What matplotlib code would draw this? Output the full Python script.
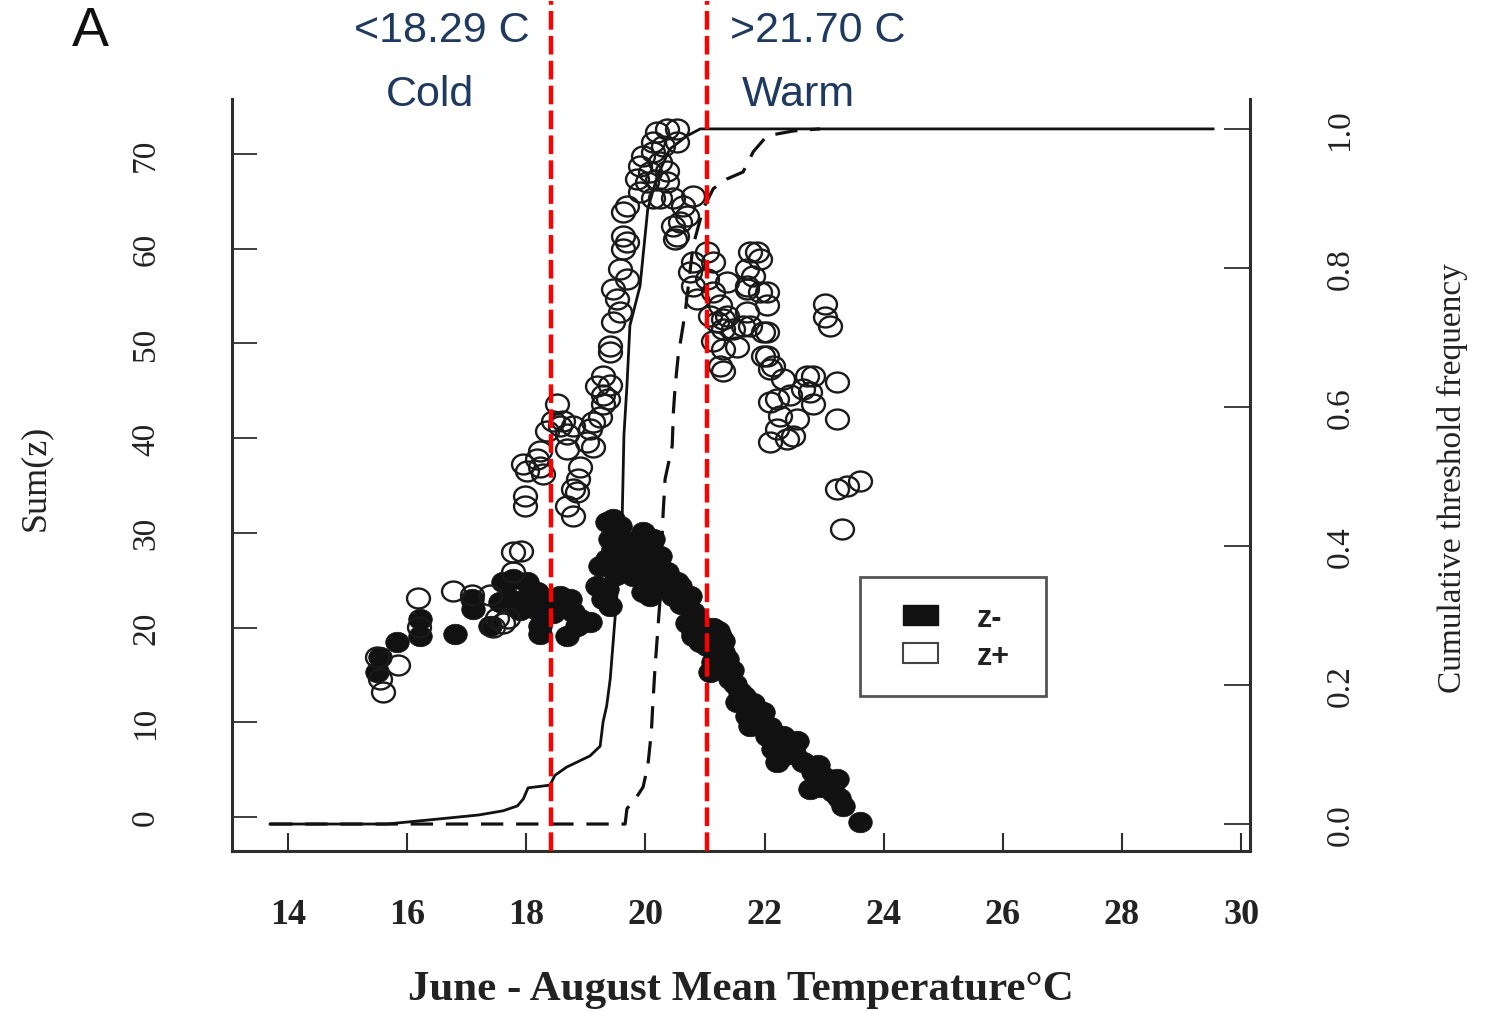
import matplotlib
matplotlib.use('Agg')
import matplotlib.pyplot as plt
from matplotlib.path import Path
from matplotlib.transforms import Affine2D
from matplotlib.patches import Patch, Rectangle

# ---------------- data ----------------
# z+ (open circles): temperature, Sum(z)
zpos_x = [15.49, 15.85, 15.54, 15.60, 16.18, 16.20, 16.77, 17.09, 17.39, 17.51, 17.61, 17.69, 17.44,
          17.78, 17.91, 17.78, 17.98, 17.98, 18.18, 17.95, 18.01, 18.23, 18.28,
          18.23, 18.35, 18.45, 18.62, 18.57, 18.52, 18.68, 18.79, 18.68,
          18.90, 18.87, 18.79, 18.68, 18.79, 18.85,
          19.12, 19.24, 19.07, 19.02, 19.12,
          19.29, 19.19, 19.41, 19.29, 19.37, 19.29,
          19.41, 19.41, 19.57, 19.46, 19.57, 19.69, 19.46, 19.52,
          19.62, 19.69, 19.62, 19.69, 19.62,
          19.91, 20.13, 20.25, 19.86, 20.03, 20.20, 20.36, 20.36,
          20.13, 19.96, 20.25, 19.91, 20.08,
          20.36, 20.53, 20.20, 20.53, 20.30, 20.13,
          20.46, 20.63, 20.70, 20.58, 20.46, 20.80, 20.53, 20.50,
          20.80, 20.75, 20.80, 20.87, 21.03, 21.14, 21.03,
          21.14, 21.25, 21.37, 21.20, 21.30, 21.47, 21.64, 21.71,
          21.76, 21.87, 21.92, 21.71, 21.81, 21.71, 21.92, 22.04, 21.98,
          21.37, 21.71, 22.04, 21.09, 21.30, 21.76, 22.04,
          21.14, 21.30, 21.54, 21.30, 21.25,
          21.98, 22.09, 22.31, 22.04, 22.14,
          22.21, 22.09, 22.26, 22.55,
          22.09, 22.38, 22.48, 22.21,
          22.81, 22.65, 22.81, 22.71, 22.76, 22.43,
          23.02, 23.02, 23.10, 23.22, 23.22,
          23.22, 23.39, 23.60, 23.30]
zpos_y = [16.9, 16.0, 14.6, 13.2, 23.1, 20.1, 23.9, 23.4, 23.4, 21.0, 20.5, 21.0, 20.1,
          28.0, 28.1, 25.9, 33.9, 32.8, 37.8, 37.3, 36.5, 37.0, 36.2,
          38.6, 40.8, 41.8, 41.8, 41.3, 43.6, 40.4, 41.3, 38.9,
          37.0, 35.7, 34.6, 32.8, 31.8, 34.3,
          41.7, 42.2, 41.0, 39.6, 39.1,
          46.6, 45.5, 45.6, 44.5, 44.1, 43.6,
          49.7, 49.1, 53.3, 52.3, 57.9, 56.8, 55.7, 54.7,
          61.3, 60.7, 60.0, 64.5, 63.9,
          66.0, 65.3, 65.3, 67.4, 67.0, 67.2, 67.0, 68.2,
          70.2, 69.8, 69.2, 68.7, 68.1,
          72.6, 72.6, 72.3, 71.3, 70.8, 71.3,
          65.3, 64.5, 63.5, 62.8, 62.4, 65.6, 61.3, 61.0,
          58.6, 57.5, 56.1, 54.7, 59.7, 58.6, 56.8,
          55.4, 54.0, 52.9, 52.3, 51.5, 51.5, 51.8, 53.3,
          59.7, 59.7, 58.9, 57.9, 57.1, 56.1, 55.4, 54.0, 51.2,
          56.5, 55.7, 55.4, 52.9, 52.6, 51.8, 51.2,
          50.2, 49.4, 49.6, 47.1, 47.6,
          48.7, 47.3, 46.2, 48.7, 47.6,
          44.1, 43.8, 42.3, 42.0,
          39.6, 39.9, 40.2, 41.0,
          46.6, 45.2, 43.6, 46.6, 44.9, 44.5,
          54.2, 52.8, 51.8, 45.9, 42.0,
          34.6, 34.9, 35.5, 30.4]

# z- (filled circles): temperature, Sum(z)
zneg_x = [15.49, 15.54, 15.83, 16.22, 16.22, 16.80, 17.11, 17.09, 17.39,
          17.56, 17.61, 17.78, 18.01, 18.18, 18.28, 17.73, 17.90, 17.85, 18.06, 18.18,
          18.45, 18.23, 18.23, 18.62, 18.57, 18.73, 18.79, 18.90, 19.07, 18.68, 18.85,
          19.19, 19.36, 19.29, 19.41, 19.24, 19.36, 19.46,
          19.36, 19.46, 19.57, 19.52, 19.41,
          19.74, 19.79, 19.79, 19.69,
          19.96, 20.13, 20.08, 20.25, 20.20, 20.08,
          20.36, 20.53, 20.58, 20.70, 20.80, 20.80, 20.92, 19.96, 20.08,
          20.25, 20.58, 20.75, 20.46, 20.80, 20.80,
          19.60, 19.90, 20.30, 20.40, 20.60, 20.70, 19.50, 19.60, 20.00, 20.20, 20.90, 21.00,
          21.14, 21.25, 21.30, 21.37, 21.14, 21.22, 21.30, 21.37, 21.09,
          21.03, 21.20, 21.45, 21.50, 21.65,
          21.42, 21.59, 21.54, 21.71, 21.98, 21.76,
          21.80, 21.90, 22.10, 22.20, 22.40, 22.35, 22.50,
          22.04, 22.31, 22.55, 22.14, 22.21,
          22.90, 23.00, 23.10, 22.95, 23.25,
          22.65, 22.81, 23.22, 22.76, 23.15, 23.32, 23.60]
zneg_y = [15.3, 16.9, 18.5, 20.9, 19.1, 19.3, 22.0, 23.0, 20.2,
          22.7, 24.8, 25.1, 24.8, 23.8, 22.3, 23.0, 21.9, 22.3, 23.8, 21.9,
          21.5, 20.2, 19.3, 23.0, 23.3, 23.0, 21.6, 20.9, 20.6, 19.1, 20.2,
          24.4, 24.1, 23.0, 22.3, 26.5, 27.2, 28.3,
          31.1, 31.5, 30.7, 29.7, 29.4,
          29.0, 27.2, 25.4, 25.9,
          30.1, 29.4, 28.0, 27.6, 26.5, 24.8,
          25.9, 24.8, 23.3, 23.0, 21.6, 19.5, 18.5, 23.8, 23.3,
          26.2, 24.4, 23.3, 23.3, 21.2, 19.1,
          26.5, 28.5, 25.5, 24.5, 22.5, 20.5, 25.5, 28.0, 26.0, 24.2, 20.5, 19.0,
          19.9, 19.1, 17.4, 15.9, 16.4, 19.6, 18.6, 16.7, 15.3,
          18.0, 17.0, 15.5, 14.0, 12.8,
          14.6, 13.2, 12.1, 10.7, 11.1, 9.6,
          12.0, 10.2, 9.5, 8.0, 7.8, 6.5, 6.8,
          8.6, 8.6, 8.0, 7.2, 5.8,
          5.5, 4.2, 3.6, 3.2, 2.0,
          5.8, 4.8, 4.0, 3.0, 2.6, 1.2, -0.5]

# cumulative threshold frequency curves (right axis)
cum_neg_x = [13.70, 15.66, 16.50, 17.20, 17.61, 17.85, 17.95, 18.03, 18.40, 18.48, 18.68,
             18.90, 19.07, 19.24, 19.29, 19.35, 19.41, 19.52, 19.61, 19.64, 19.69,
             19.74, 19.91, 20.04, 20.20, 20.41, 20.70, 20.92, 29.53]
cum_neg_y = [0.0, 0.0, 0.007, 0.013, 0.019, 0.026, 0.036, 0.052, 0.056, 0.070, 0.082,
             0.091, 0.098, 0.112, 0.147, 0.170, 0.209, 0.328, 0.439, 0.560, 0.630,
             0.717, 0.774, 0.885, 0.932, 0.971, 0.990, 1.0, 1.0]
cum_pos_x = [13.70, 19.66, 19.69, 19.83, 19.96, 20.04, 20.10, 20.12, 20.16, 20.25, 20.29,
             20.33, 20.45, 20.47, 20.50, 20.55, 20.67, 20.80, 20.97, 21.14, 21.37,
             21.64, 21.81, 22.04, 22.48, 22.93]
cum_pos_y = [0.0, 0.0, 0.022, 0.036, 0.053, 0.083, 0.132, 0.165, 0.223, 0.328, 0.435,
             0.496, 0.544, 0.593, 0.630, 0.673, 0.737, 0.832, 0.885, 0.914, 0.928,
             0.938, 0.967, 0.990, 0.997, 1.0]

thresholds = [18.42, 21.03]
threshold_labels = ['<18.29 C', '>21.70 C']
zone_labels = ['Cold', 'Warm']

x_ticks = [14, 16, 18, 20, 22, 24, 26, 28, 30]
y_ticks = [0, 10, 20, 30, 40, 50, 60, 70]
y2_ticks = [0.0, 0.2, 0.4, 0.6, 0.8, 1.0]
y2_ticklabels = ['0.0', '0.2', '0.4', '0.6', '0.8', '1.0']

# ---------------- figure ----------------
plt.rcParams['font.family'] = ['Liberation Serif', 'DejaVu Serif']
W, H = 1488, 1012
fig = plt.figure(figsize=(W / 100, H / 100), dpi=100)
ax = fig.add_axes([232 / W, 1 - 852 / H, 1018 / W, 752 / H])
ax2 = ax.twinx()
ax.set_zorder(2)
ax.patch.set_visible(False)

ax.set_xlim(13.06, 30.15)
ax.set_ylim(-3.59, 75.8)
ax2.set_ylim(-0.0388, 1.043)

ell = Path.unit_circle().transformed(Affine2D().scale(1.15, 1.0))
ax.plot(zneg_x, zneg_y, linestyle='none', marker=ell, ms=17, mfc='#111111',
        mec='#111111', mew=0.5, zorder=3)
ax.plot(zpos_x, zpos_y, linestyle='none', marker=ell, ms=16.5, mfc='none',
        mec='#1a1a1a', mew=1.7, zorder=4)

ax2.plot(cum_neg_x, cum_neg_y, color='#111111', lw=2.0, solid_joinstyle='round')
ax2.plot(cum_pos_x, cum_pos_y, color='#111111', lw=2.3, dashes=(7, 4))

spine_c = '#2e2e2e'
for a in (ax, ax2):
    a.spines['top'].set_visible(False)
    for s in a.spines.values():
        s.set_color(spine_c)
        s.set_linewidth(2.2)
ax.spines['right'].set_visible(False)
ax2.spines['left'].set_visible(False)
ax2.spines['bottom'].set_visible(False)

ax.set_xticks(x_ticks)
ax.set_xticklabels([str(t) for t in x_ticks])
ax.tick_params(axis='x', direction='in', length=13, width=1.5, pad=34,
               labelsize=26, colors=spine_c, labelcolor='#222222')
for lab in ax.get_xticklabels():
    lab.set_fontweight('bold')

ax.set_yticks(y_ticks)
ax.set_yticklabels([str(t) for t in y_ticks])
ax.tick_params(axis='y', direction='in', length=18, width=1.3, pad=51,
               labelsize=24, labelrotation=90, colors=spine_c, labelcolor='#222222')
for lab in ax.get_yticklabels():
    lab.set_va('center')

ax2.set_yticks(y2_ticks)
ax2.set_yticklabels(y2_ticklabels)
ax2.tick_params(axis='y', direction='in', length=18.5, width=1.3, pad=54,
                labelsize=24, labelrotation=90, colors=spine_c, labelcolor='#222222')
for lab in ax2.get_yticklabels():
    lab.set_va('center')

fig.text(35 / W, 1 - 478 / H, 'Sum(z)', rotation=90, ha='center', va='center',
         fontsize=26, color='#222222')
fig.text(1452 / W, 1 - 478 / H, 'Cumulative threshold frequency', rotation=90,
         ha='center', va='center', fontsize=24, color='#222222')
fig.text(741 / W, 1 - 990 / H, 'June - August Mean Temperature°C', ha='center',
         va='center', fontsize=31, fontweight='bold', color='#222222')

fig.text(90 / W, 1 - 32 / H, 'A', ha='center', va='center', fontsize=40,
         family=['Liberation Sans', 'DejaVu Sans'], color='#111111')

navy = '#1f3a60'
sans = ['Liberation Sans', 'DejaVu Sans']
fig.text(442 / W, 1 - 31 / H, threshold_labels[0], ha='center', va='center',
         fontsize=31, family=sans, color=navy)
fig.text(430 / W, 1 - 95 / H, zone_labels[0], ha='center', va='center',
         fontsize=31, family=sans, color=navy)
fig.text(818 / W, 1 - 31 / H, threshold_labels[1], ha='center', va='center',
         fontsize=31, family=sans, color=navy)
fig.text(798 / W, 1 - 95 / H, zone_labels[1], ha='center', va='center',
         fontsize=31, family=sans, color=navy)

for xv in thresholds:
    ax.axvline(xv, ymin=0, ymax=(852 - 2) / 752, color='#ff0000', lw=3.2,
               dashes=(4.2, 1.4), clip_on=False, zorder=10)

# legend: frame drawn as a box, entries via ax.legend
ax.add_patch(Rectangle(((860 - 232) / 1018, (852 - 697) / 752), 186 / 1018, 119 / 752,
                       transform=ax.transAxes, facecolor='white', edgecolor='#555555',
                       lw=2, zorder=19))
handles = [Patch(facecolor='#111111', edgecolor='#111111'),
           Patch(facecolor='white', edgecolor='#444444', lw=1.5)]
leg = ax.legend(handles, ['z-', 'z+'], loc='upper left',
                bbox_to_anchor=((903 - 232) / 1018, (852 - 604) / 752),
                frameon=False,
                prop={'family': sans, 'size': 22, 'weight': 'bold'},
                handlelength=1.15, handleheight=0.65, handletextpad=1.25,
                borderpad=0, labelspacing=0.25, borderaxespad=0)
for t in leg.get_texts():
    t.set_color('#222222')
leg.set_zorder(20)

fig.savefig('out.png', dpi=100, facecolor='white')
